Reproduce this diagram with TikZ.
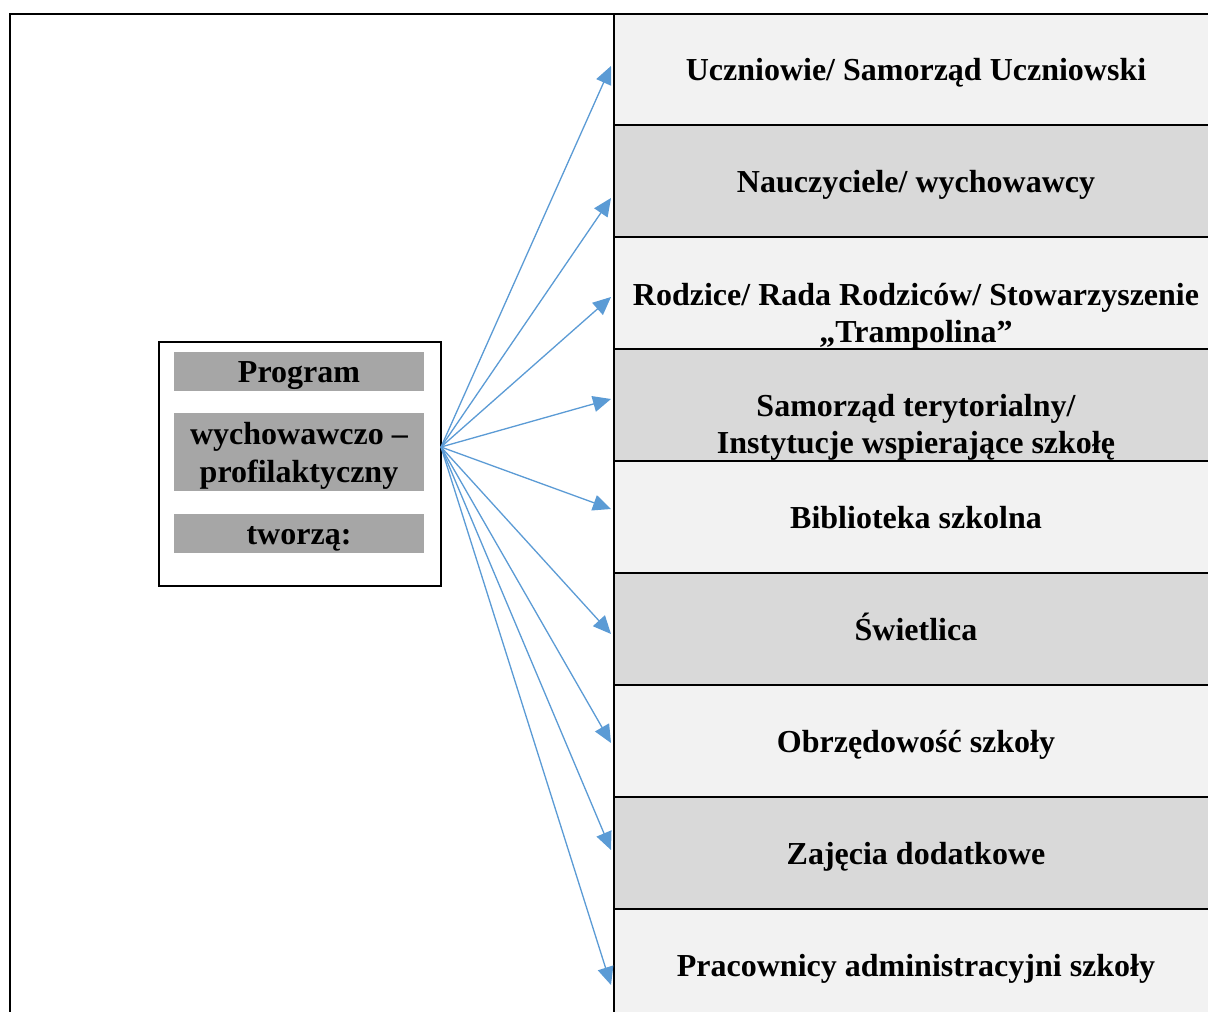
\documentclass[tikz,border=0pt]{standalone}
\usepackage{fontspec}
\setmainfont{Liberation Serif}
\usetikzlibrary{arrows.meta}
\definecolor{lightg}{HTML}{F2F2F2}
\definecolor{darkg}{HTML}{D9D9D9}
\definecolor{barg}{HTML}{A6A6A6}
\definecolor{arrowblue}{HTML}{5B9BD5}
\tikzset{
  cell/.style={rectangle, draw=black, line width=2pt, anchor=north west, minimum width=600pt, minimum height=112pt, inner sep=0pt, outer sep=0pt},
  bar/.style={rectangle, fill=barg, anchor=north west, minimum width=250pt, inner sep=0pt, outer sep=0pt},
  lbl/.style={anchor=base, inner sep=0pt, font=\bfseries\fontsize{32}{37}\selectfont},
  conn/.style={draw=arrowblue, line width=1.3pt, -{Triangle[length=18pt,width=16pt]}},
}
\begin{document}
\begin{tikzpicture}[x=1pt,y=-1pt]
\useasboundingbox (0,0) rectangle (1208,1012);
\clip (0,0) rectangle (1208,1012);
\fill[white] (0,0) rectangle (1208,1012);
% outer frame
\draw[line width=2pt] (10,1030) -- (10,14) -- (1230,14);
% right column cells
\node[cell, fill=lightg] (r1) at (614,14) {};
\node[cell, fill=darkg]  (r2) at (614,125) {};
\node[cell, fill=lightg] (r3) at (614,237) {};
\node[cell, fill=darkg]  (r4) at (614,349) {};
\node[cell, fill=lightg] (r5) at (614,461) {};
\node[cell, fill=darkg]  (r6) at (614,573) {};
\node[cell, fill=lightg] (r7) at (614,685) {};
\node[cell, fill=darkg]  (r8) at (614,797) {};
\node[cell, fill=lightg] (r9) at (614,909) {};
% labels
\node[lbl] (t1) at (916,80) {Uczniowie/ Samorząd Uczniowski};
\node[lbl] (t2) at (916,192) {Nauczyciele/ wychowawcy};
\node[lbl] (t3a) at (916,305) {Rodzice/ Rada Rodziców/ Stowarzyszenie};
\node[lbl] (t3b) at (916,342) {„Trampolina”};
\node[lbl] (t4a) at (916,416) {Samorząd terytorialny/};
\node[lbl] (t4b) at (916,453) {Instytucje wspierające szkołę};
\node[lbl] (t5) at (916,528) {Biblioteka szkolna};
\node[lbl] (t6) at (916,640) {Świetlica};
\node[lbl] (t7) at (916,752) {Obrzędowość szkoły};
\node[lbl] (t8) at (916,864) {Zajęcia dodatkowe};
\node[lbl] (t9) at (916,976) {Pracownicy administracyjni szkoły};
% left box
\node[rectangle, draw=black, line width=2pt, anchor=north west, minimum width=282pt, minimum height=244pt, inner sep=0pt] (box) at (158,341) {};
\node[bar, minimum height=39pt] (b1) at (174,352) {};
\node[bar, minimum height=78pt] (b2) at (174,413) {};
\node[bar, minimum height=39pt] (b3) at (174,514) {};
\node[lbl] (p1) at (299,382) {Program};
\node[lbl] (p2) at (299,444) {wychowawczo –};
\node[lbl] (p3) at (299,482) {profilaktyczny};
\node[lbl] (p4) at (299,544) {tworzą:};
% connector end points
\coordinate (src) at (441,447);
\coordinate (a1) at (611,66);
\coordinate (a2) at (611,198);
\coordinate (a3) at (611,297);
\coordinate (a4) at (611,399);
\coordinate (a5) at (611,509);
\coordinate (a6) at (611,634);
\coordinate (a7) at (611,743);
\coordinate (a8) at (611,850);
\coordinate (a9) at (611,985);
\foreach \i in {1,...,9} { \draw[conn] (src) -- (a\i); }
\end{tikzpicture}
\end{document}
